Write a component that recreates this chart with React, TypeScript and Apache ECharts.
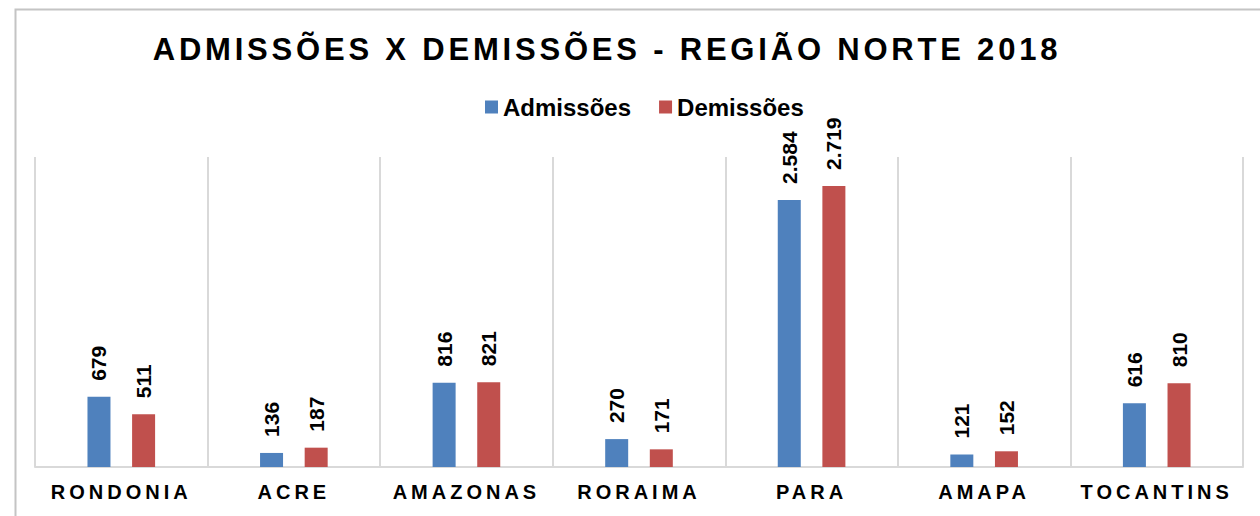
import React, { useEffect, useRef } from "react";
import * as echarts from "echarts";

const categories = ["RONDONIA", "ACRE", "AMAZONAS", "RORAIMA", "PARA", "AMAPA", "TOCANTINS"];
const admissoes = [679, 136, 816, 270, 2584, 121, 616];
const demissoes = [511, 187, 821, 171, 2719, 152, 810];
const titleText = "ADMISSÕES X DEMISSÕES - REGIÃO NORTE 2018";
const seriesNames = ["Admissões", "Demissões"];

const FONT = "'Liberation Sans', Arial, Helvetica, sans-serif";

function fmt(v: number): string {
  return String(v).replace(/\B(?=(\d{3})+(?!\d))/g, ".");
}

export default function App() {
  const ref = useRef<HTMLDivElement>(null);
  useEffect(() => {
    document.body.style.margin = "0";
    const styleEl = document.createElement("style");
    styleEl.textContent = `
      #chart text[style*="31px"] { letter-spacing: 3.8px; }
      #chart text[style*="20px"] { letter-spacing: 4px; }
    `;
    document.head.appendChild(styleEl);
    const chart = echarts.init(ref.current!, null, { renderer: "svg" });
    const labelCfg = {
      show: true,
      position: "top" as const,
      rotate: 90,
      align: "left" as const,
      verticalAlign: "middle" as const,
      distance: 16,
      fontFamily: FONT,
      fontWeight: "bold" as const,
      fontSize: 21,
      color: "#000",
      formatter: (p: any) => fmt(p.value),
    };
    chart.setOption({
      animation: false,
      backgroundColor: "#fff",
      graphic: [
        {
          type: "rect",
          silent: true,
          z: -10,
          shape: { x: 15.5, y: 9.5, width: 1300, height: 600 },
          style: { fill: "none", stroke: "#c4c4c4", lineWidth: 2 },
        },
        {
          type: "text",
          silent: true,
          x: 607,
          y: 49,
          style: {
            text: titleText,
            textAlign: "center",
            textVerticalAlign: "middle",
            font: `bold 31px ${FONT}`,
            fill: "#000",
          },
        },
      ],
      legend: {
        data: seriesNames,
        left: 485,
        top: 95,
        padding: 0,
        icon: "rect",
        itemWidth: 13,
        itemHeight: 13,
        itemGap: 28,
        textStyle: { fontFamily: FONT, fontWeight: "bold", fontSize: 24, color: "#000" },
      },
      grid: { left: 35, right: 17, top: 157, bottom: 49, containLabel: false },
      xAxis: {
        type: "category",
        data: categories,
        axisTick: { show: false },
        axisLine: { lineStyle: { color: "#d9d9d9", width: 2 } },
        axisLabel: {
          margin: 15,
          fontFamily: FONT,
          fontWeight: "bold",
          fontSize: 20,
          color: "#000",
        },
        splitLine: { show: true, lineStyle: { color: "#d9d9d9", width: 2 } },
      },
      yAxis: {
        type: "value",
        min: 0,
        max: 3000,
        show: false,
        splitLine: { show: false },
      },
      series: [
        {
          name: seriesNames[0],
          type: "bar",
          data: admissoes,
          barWidth: 23,
          barGap: "94%",
          itemStyle: { color: "#4F81BD" },
          label: labelCfg,
        },
        {
          name: seriesNames[1],
          type: "bar",
          data: demissoes,
          barWidth: 23,
          itemStyle: { color: "#C0504D" },
          label: labelCfg,
        },
      ],
    });
    return () => {
      chart.dispose();
      styleEl.remove();
    };
  }, []);
  return (
    <div
      id="chart"
      ref={ref}
      style={{ position: "fixed", left: 0, top: 0, width: 1260, height: 516 }}
    />
  );
}
